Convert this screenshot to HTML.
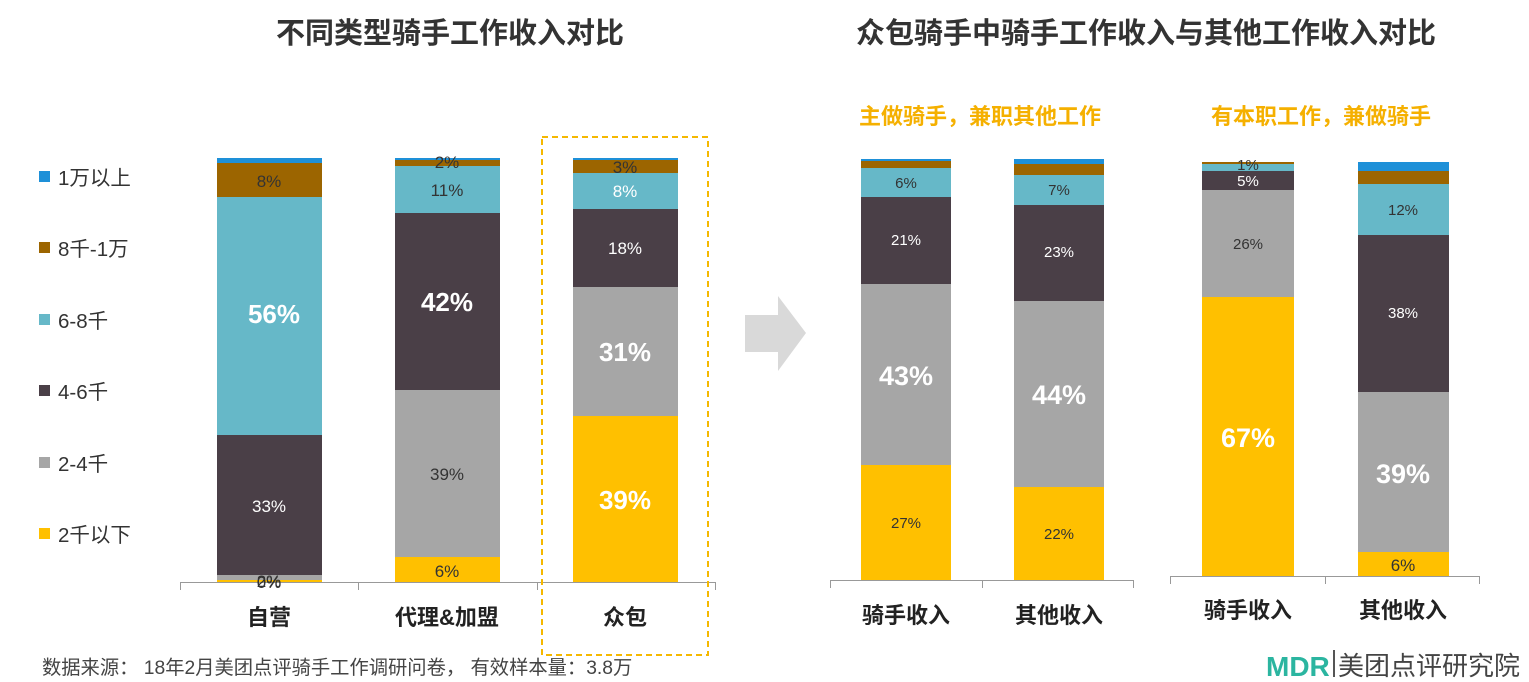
<!DOCTYPE html>
<html><head><meta charset="utf-8"><style>
body{margin:0;background:#fff;}
svg{display:block;font-family:"Liberation Sans","Noto Sans CJK SC",sans-serif;}
</style></head><body>
<svg width="1529" height="682" viewBox="0 0 1529 682" xmlns="http://www.w3.org/2000/svg">
<rect width="1529" height="682" fill="#fff"/>
<g font-weight="bold" fill="#333" font-size="29" text-anchor="middle">
<text x="450" y="43">不同类型骑手工作收入对比</text>
<text x="1146" y="43">众包骑手中骑手工作收入与其他工作收入对比</text>
</g>
<g font-weight="bold" fill="#F5B000" font-size="22" text-anchor="middle">
<text x="980" y="124">主做骑手，兼职其他工作</text>
<text x="1321" y="124">有本职工作，兼做骑手</text>
</g>
<!-- legend -->
<g font-size="20.5" fill="#333">
<rect x="39" y="171" width="11" height="11" fill="#1E90D8"/><text x="58" y="185">1万以上</text>
<rect x="39" y="242" width="11" height="11" fill="#9C6500"/><text x="58" y="256">8千-1万</text>
<rect x="39" y="314" width="11" height="11" fill="#66B8C8"/><text x="58" y="328">6-8千</text>
<rect x="39" y="385" width="11" height="11" fill="#4A3F47"/><text x="58" y="399">4-6千</text>
<rect x="39" y="457" width="11" height="11" fill="#A6A6A6"/><text x="58" y="471">2-4千</text>
<rect x="39" y="528" width="11" height="11" fill="#FFC000"/><text x="58" y="542">2千以下</text>
</g>
<!-- left bars -->
<g>
<rect x="217" y="158" width="105" height="5" fill="#1E90D8"/>
<rect x="217" y="163" width="105" height="34" fill="#9C6500"/>
<rect x="217" y="197" width="105" height="238" fill="#66B8C8"/>
<rect x="217" y="435" width="105" height="140" fill="#4A3F47"/>
<rect x="217" y="575" width="105" height="5" fill="#A6A6A6"/>
<rect x="217" y="580" width="105" height="2" fill="#FFC000"/>

<rect x="395" y="158" width="105" height="2" fill="#1E90D8"/>
<rect x="395" y="160" width="105" height="6" fill="#9C6500"/>
<rect x="395" y="166" width="105" height="47" fill="#66B8C8"/>
<rect x="395" y="213" width="105" height="177" fill="#4A3F47"/>
<rect x="395" y="390" width="105" height="167" fill="#A6A6A6"/>
<rect x="395" y="557" width="105" height="25" fill="#FFC000"/>

<rect x="573" y="158" width="105" height="2" fill="#1E90D8"/>
<rect x="573" y="160" width="105" height="13" fill="#9C6500"/>
<rect x="573" y="173" width="105" height="36" fill="#66B8C8"/>
<rect x="573" y="209" width="105" height="78" fill="#4A3F47"/>
<rect x="573" y="287" width="105" height="129" fill="#A6A6A6"/>
<rect x="573" y="416" width="105" height="166" fill="#FFC000"/>
</g>
<g stroke="#999" stroke-width="1">
<line x1="180" y1="582.5" x2="716" y2="582.5"/>
<line x1="180.5" y1="582" x2="180.5" y2="590"/><line x1="358.5" y1="582" x2="358.5" y2="590"/>
<line x1="537.5" y1="582" x2="537.5" y2="590"/><line x1="715.5" y1="582" x2="715.5" y2="590"/>
</g>
<rect x="542" y="137" width="166" height="518" fill="none" stroke="#F5B800" stroke-width="2" stroke-dasharray="6,4"/>
<g text-anchor="middle" font-size="17" fill="#333">
<text x="269" y="187">8%</text>
<text x="269" y="587">2%</text><text x="269" y="588">0%</text>
<text x="447" y="168">2%</text>
<text x="447" y="196">11%</text>
<text x="447" y="480">39%</text>
<text x="447" y="577">6%</text>
<text x="625" y="173">3%</text>
<text x="625" y="197" fill="#fff">8%</text>
<text x="625" y="254" fill="#fff">18%</text>
<text x="269" y="512" fill="#fff">33%</text>
</g>
<g text-anchor="middle" font-size="26" font-weight="bold" fill="#fff">
<text x="274" y="323">56%</text>
<text x="447" y="311">42%</text>
<text x="625" y="361">31%</text>
<text x="625" y="509">39%</text>
</g>
<g text-anchor="middle" font-size="22" font-weight="bold" fill="#222">
<text x="269" y="625">自营</text><text x="447" y="625">代理&amp;加盟</text><text x="625" y="625">众包</text>
</g>
<!-- arrow -->
<polygon points="745,315 778,315 778,296 806,333 778,371 778,352 745,352" fill="#D9D9D9"/>
<!-- right group 1 -->
<g>
<rect x="861" y="159" width="90" height="2" fill="#1E90D8"/>
<rect x="861" y="161" width="90" height="7" fill="#9C6500"/>
<rect x="861" y="168" width="90" height="29" fill="#66B8C8"/>
<rect x="861" y="197" width="90" height="87" fill="#4A3F47"/>
<rect x="861" y="284" width="90" height="181" fill="#A6A6A6"/>
<rect x="861" y="465" width="90" height="115" fill="#FFC000"/>
<rect x="1014" y="159" width="90" height="5" fill="#1E90D8"/>
<rect x="1014" y="164" width="90" height="11" fill="#9C6500"/>
<rect x="1014" y="175" width="90" height="30" fill="#66B8C8"/>
<rect x="1014" y="205" width="90" height="96" fill="#4A3F47"/>
<rect x="1014" y="301" width="90" height="186" fill="#A6A6A6"/>
<rect x="1014" y="487" width="90" height="93" fill="#FFC000"/>
</g>
<g stroke="#999"><line x1="830" y1="580.5" x2="1134" y2="580.5"/><line x1="830.5" y1="580" x2="830.5" y2="588"/><line x1="982.5" y1="580" x2="982.5" y2="588"/><line x1="1133.5" y1="580" x2="1133.5" y2="588"/></g>
<!-- right group 2 -->
<g>
<rect x="1202" y="162" width="92" height="2" fill="#9C6500"/>
<rect x="1202" y="164" width="92" height="7" fill="#66B8C8"/>
<rect x="1202" y="171" width="92" height="19" fill="#4A3F47"/>
<rect x="1202" y="190" width="92" height="107" fill="#A6A6A6"/>
<rect x="1202" y="297" width="92" height="279" fill="#FFC000"/>
<rect x="1358" y="162" width="91" height="9" fill="#1E90D8"/>
<rect x="1358" y="171" width="91" height="13" fill="#9C6500"/>
<rect x="1358" y="184" width="91" height="51" fill="#66B8C8"/>
<rect x="1358" y="235" width="91" height="157" fill="#4A3F47"/>
<rect x="1358" y="392" width="91" height="160" fill="#A6A6A6"/>
<rect x="1358" y="552" width="91" height="24" fill="#FFC000"/>
</g>
<g stroke="#999"><line x1="1170" y1="576.5" x2="1480" y2="576.5"/><line x1="1170.5" y1="576" x2="1170.5" y2="584"/><line x1="1325.5" y1="576" x2="1325.5" y2="584"/><line x1="1479.5" y1="576" x2="1479.5" y2="584"/></g>
<g text-anchor="middle" font-size="15" fill="#333">
<text x="906" y="188">6%</text>
<text x="906" y="245" fill="#fff">21%</text>
<text x="906" y="528">27%</text>
<text x="1059" y="195">7%</text>
<text x="1059" y="257" fill="#fff">23%</text>
<text x="1059" y="539">22%</text>
<text x="1248" y="170">1%</text>
<text x="1248" y="186" fill="#fff">5%</text>
<text x="1248" y="249">26%</text>
<text x="1403" y="215">12%</text>
<text x="1403" y="318" fill="#fff">38%</text>
<text x="1403" y="571" font-size="17">6%</text>
</g>
<g text-anchor="middle" font-size="27" font-weight="bold" fill="#fff">
<text x="906" y="385">43%</text>
<text x="1059" y="404">44%</text>
<text x="1248" y="447">67%</text>
<text x="1403" y="483">39%</text>
</g>
<g text-anchor="middle" font-size="22" font-weight="bold" fill="#222">
<text x="906" y="623">骑手收入</text><text x="1059" y="623">其他收入</text>
<text x="1248" y="618">骑手收入</text><text x="1403" y="618">其他收入</text>
</g>
<text x="42" y="674" font-size="19.3" fill="#444">数据来源： 18年2月美团点评骑手工作调研问卷， 有效样本量：3.8万</text>
<text x="1266" y="676" font-size="28" fill="#2BB5A0" font-weight="bold">MDR</text>
<line x1="1334" y1="650" x2="1334" y2="677" stroke="#555" stroke-width="2"/>
<text x="1338" y="675" font-size="26" fill="#444">美团点评研究院</text>
</svg>
</body></html>
